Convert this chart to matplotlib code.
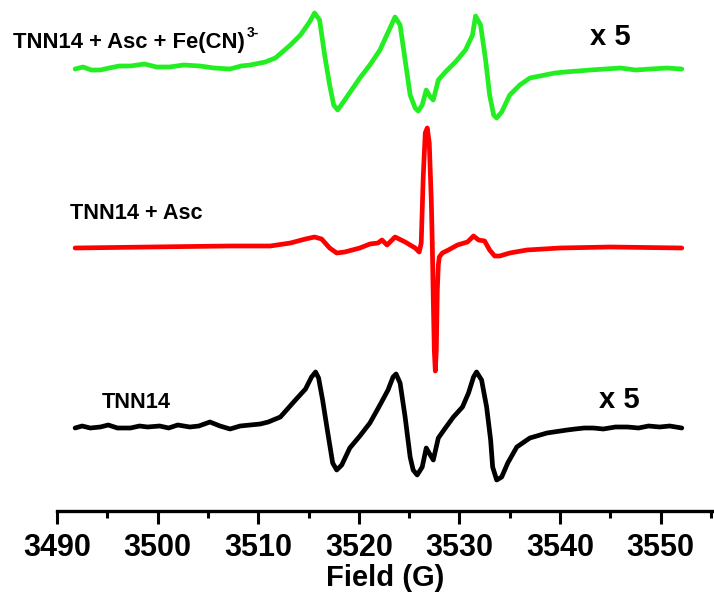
import matplotlib.pyplot as plt
from matplotlib.ticker import MultipleLocator

plt.rcParams['font.family'] = ['Liberation Sans', 'DejaVu Sans']

# EPR spectra (field in G, signal in arbitrary units)
field_fecn = [3491.8, 3492.6, 3493.4, 3494.3, 3495.2, 3496.2, 3497.3, 3498.7, 3499.9,
              3501.2, 3502.6, 3504.2, 3505.6, 3507.2, 3508.3, 3509.2, 3510.7, 3511.7,
              3513.2, 3514.2, 3515.1, 3515.6, 3516.1, 3516.6, 3517.1, 3517.5, 3517.9,
              3518.6, 3520.1, 3521.1, 3522.1, 3523.1, 3523.6, 3524.1, 3524.6, 3525.1,
              3525.6, 3525.9, 3526.3, 3526.7, 3527.1, 3527.4, 3527.9, 3528.6, 3529.6,
              3530.6, 3531.3, 3531.6, 3532.1, 3532.6, 3533.0, 3533.4, 3533.7, 3534.2,
              3535.0, 3536.0, 3537.0, 3538.5, 3539.5, 3540.5, 3541.8, 3543.0, 3544.5,
              3546.0, 3547.5, 3549.0, 3550.6, 3552.1]
signal_fecn = [0, 2, -1, -1, 1, 3, 3, 5, 2, 2, 4, 3, 1, 0, 3, 4, 7, 11, 24, 34, 47, 56,
               49, 14, -16, -36, -41, -31, -9, 4, 19, 41, 52, 44, 9, -26, -39, -42, -36,
               -21, -28, -31, -11, -3, 7, 19, 34, 53, 44, 9, -26, -46, -49, -43, -26,
               -16, -9, -6, -4, -3, -2, -1, 0, 1, -1, 0, 1, 0]

field_asc = [3491.8, 3499.2, 3507.2, 3511.2, 3513.2, 3514.7, 3515.6, 3516.3, 3517.1,
             3517.8, 3518.6, 3520.1, 3521.1, 3521.9, 3522.3, 3522.8, 3523.6, 3524.6,
             3525.6, 3526.0, 3526.2, 3526.4, 3526.6, 3526.8, 3527.0, 3527.2, 3527.3,
             3527.4, 3527.5, 3527.6, 3527.7, 3527.8, 3527.9, 3528.0, 3528.3, 3528.9,
             3529.8, 3530.8, 3531.4, 3531.9, 3532.5, 3533.0, 3533.5, 3534.0, 3535.0,
             3536.7, 3540.0, 3545.0, 3552.1]
signal_asc = [0, 1, 2, 2, 5, 9, 11, 9, 0, -5, -4, 0, 4, 5, 8, 3, 11, 6, 0, -4, 5, 71,
              115, 120, 105, 48, 5, -52, -102, -123, -102, -42, -17, -9, -5, -2, 3, 6,
              12, 8, 7, -2, -8, -8, -5, -2, 0, 1, 0]

field_tnn = [3491.8, 3492.5, 3493.3, 3494.3, 3495.1, 3496.0, 3497.3, 3498.2, 3499.0,
             3500.2, 3501.1, 3502.0, 3503.2, 3504.1, 3505.2, 3506.2, 3507.2, 3508.2,
             3509.2, 3510.2, 3511.0, 3512.2, 3513.7, 3514.7, 3515.3, 3515.7, 3516.0,
             3516.4, 3516.9, 3517.4, 3517.8, 3518.3, 3519.1, 3520.1, 3521.1, 3522.1,
             3522.9, 3523.4, 3523.7, 3524.1, 3524.6, 3525.1, 3525.4, 3525.8, 3526.3,
             3526.7, 3527.1, 3527.4, 3527.9, 3528.6, 3529.4, 3530.3, 3530.9, 3531.4,
             3531.7, 3532.2, 3532.7, 3533.1, 3533.3, 3533.7, 3534.2, 3534.8, 3535.7,
             3537.0, 3538.7, 3540.7, 3541.5, 3542.4, 3543.3, 3544.3, 3545.5, 3546.7,
             3547.8, 3548.8, 3549.9, 3550.9, 3552.1]
signal_tnn = [-1, 1, -1, 0, 2, -1, -1, 1, 0, 1, -1, 2, 0, 1, 5, 1, -2, 1, 2, 3, 5, 10,
              27, 38, 50, 55, 49, 27, -5, -36, -43, -38, -21, -9, 4, 22, 37, 50, 53, 44,
              10, -30, -43, -48, -40, -21, -28, -33, -11, -1, 10, 20, 34, 50, 55, 47, 20,
              -13, -40, -53, -50, -36, -20, -11, -6, -3, -2, -1, -1, -2, 0, 0, -1, 1, 0,
              1, -1]

fig = plt.figure(figsize=(7.14, 6.02), dpi=100)
ax = fig.add_axes([57 / 714, 91 / 602, 657 / 714, 511 / 602])

line_kw = dict(lw=3.4, solid_joinstyle='round', solid_capstyle='round')
ax.plot(field_fecn, [442 + s for s in signal_fecn], color='#22ee22', **line_kw)
ax.plot(field_asc, [263 + s for s in signal_asc], color='#ff0000', **line_kw)
ax.plot(field_tnn, [84 + s for s in signal_tnn], color='black', **line_kw)

ax.set_xlim(3490, 3555.3)
ax.set_ylim(0, 511)
for side in ['left', 'right', 'top']:
    ax.spines[side].set_visible(False)
ax.spines['bottom'].set_linewidth(2.4)
ax.set_yticks([])
ax.xaxis.set_major_locator(MultipleLocator(10))
ax.xaxis.set_minor_locator(MultipleLocator(5))
ax.tick_params(axis='x', which='major', length=9, width=2.2, pad=6.5,
               labelsize=22)
ax.tick_params(axis='x', which='minor', length=5, width=2.2)
for lab in ax.get_xticklabels():
    lab.set_fontweight('bold')
ax.set_xlabel('Field (G)', fontsize=21, fontweight='bold', labelpad=1)


def px_text(x, y, s, size):
    fig.text(x / 714, 1 - y / 602, s, fontsize=size, fontweight='bold',
             ha='left', va='baseline')


px_text(13, 48, 'TNN14 + Asc + Fe(CN)', 15.8)
px_text(247, 37, '3-', 10)
px_text(590, 45, 'x 5', 21)
px_text(70, 219, 'TNN14 + Asc', 15.6)
px_text(102, 408, 'TNN14', 15.6)
px_text(599, 408, 'x 5', 21)

fig.savefig('out.png', dpi=100, facecolor='white')
